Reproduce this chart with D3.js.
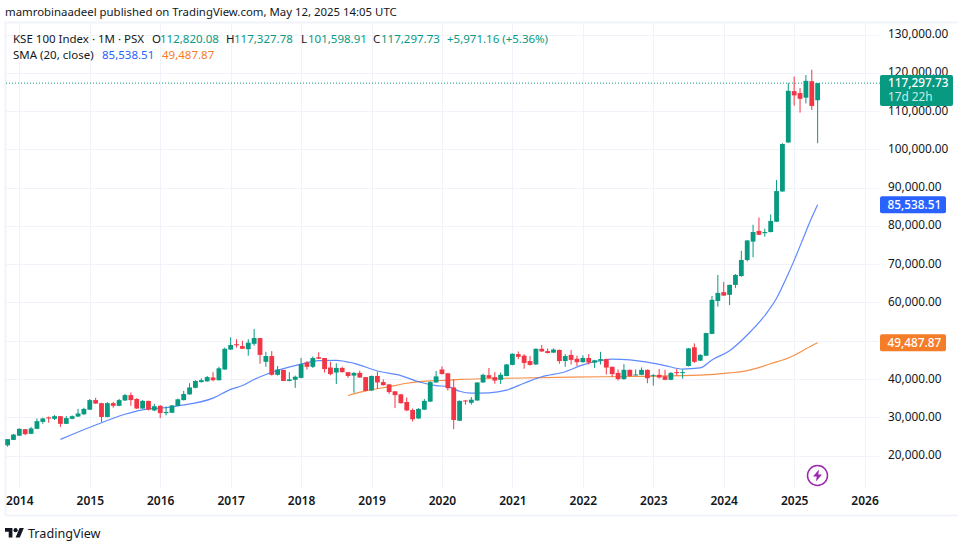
<!DOCTYPE html>
<html>
<head>
<meta charset="utf-8">
<script src="https://cdn.jsdelivr.net/npm/d3@7"></script>
<style>
  html, body { margin: 0; padding: 0; background: #fff; }
  text { font-family: "Noto Sans", sans-serif; fill: #131722; }
</style>
</head>
<body>
<svg id="chart" width="958" height="547"></svg>
<script>
// monthly candles, first one is Nov 2013, last one May 2025
const opens = [
  22700,24100,25200,26900,25700,27000,28800,30000,29600,30300,
  28300,29600,30200,30800,32000,34500,33700,30100,33700,33000,
  34400,35800,34800,32300,34300,31800,33000,31100,31200,33000,
  34500,36000,37700,39200,39400,40400,39700,42500,47700,49100,
  48600,47800,49200,50700,44500,46000,41100,42400,39500,39800,
  40300,44300,43200,45700,45500,43000,41700,42900,41800,40900,
  41600,40500,37000,40800,39200,38600,36800,36000,34000,31900,
  29700,32000,34100,39100,42500,41500,37800,29100,34400,33800,
  34400,39100,41000,40500,39800,40800,43700,46500,46100,44700,
  43800,47900,47300,46900,47600,44700,46300,45300,44400,45500,
  44300,44800,45200,43200,41600,40000,42400,41000,41100,42400,
  40900,41100,40700,39800,41800,41700,43400,48300,44800,46100,
  51800,60400,62700,62000,64600,66900,71100,75900,78700,78100,
  78400,81100,89000,101800,115200,114700,113500,117800,112820.08
];
const highs = [
  24300,25600,27100,26900,27500,29700,29900,30200,30600,30300,
  30300,30500,32200,32500,34800,35100,33800,34000,34000,34800,
  36100,36500,35000,34500,34300,33500,33200,32800,33200,34900,
  36900,38900,39700,40200,40800,41800,43200,48200,50900,50400,
  50000,50400,53100,50700,47100,47300,43400,42400,41800,40900,
  45500,44700,45900,47000,45500,44500,44100,43200,41800,41800,
  42200,40500,40900,41900,39900,38700,36800,36100,35200,32300,
  32400,34800,39400,42100,43300,41600,39900,34400,34500,35300,
  39200,41400,42900,41800,41700,43900,46700,47200,46500,46000,
  48000,48900,48000,48000,47700,46500,47600,46100,46200,46500,
  45000,47100,45300,43200,42500,43900,42500,42500,43000,42500,
  41300,42600,42400,41800,42600,42500,48100,49300,46500,52100,
  61700,67200,65400,64700,67400,73500,76300,80300,82200,79300,
  83000,92000,101600,117300,119000,116000,119400,120800,117327.78
];
const lows = [
  22300,24100,25100,25400,25600,26900,28300,28600,29300,27500,
  28300,29500,30100,30600,31900,33500,28800,30000,32500,32900,
  34300,33000,32200,32200,31800,31600,29800,30500,31100,32900,
  34400,35900,37600,39100,39300,39400,39600,42400,47600,48200,
  47900,46100,48700,44000,43200,40900,40900,39500,39400,37700,
  40200,42500,42900,45200,41700,41000,38700,41700,40300,36400,
  40300,36800,36900,37400,38300,36100,32400,33600,31600,28900,
  29600,31900,34000,39000,41200,37000,26900,29000,33300,33300,
  34300,39000,40100,38800,38700,40700,43600,45200,42700,43500,
  43700,47100,46700,46800,44000,43200,43800,43400,44300,43800,
  42900,43800,41200,40600,39600,39800,40600,40900,41000,38900,
  38300,40100,39700,39700,40900,40100,43300,44200,44700,46000,
  51700,58900,61700,59300,63800,66700,70700,71800,77600,77200,
  78300,81000,88900,101700,111400,109600,112000,110300,101598.91
];
const closes = [
  24300,25500,27000,25600,27100,29000,29700,29700,30300,28300,
  29800,30300,31000,32200,34500,33600,30100,33700,33000,34500,
  35800,34500,32300,34300,32000,32900,31100,31400,33100,34700,
  36100,37800,39500,39700,40500,39700,42800,47900,48900,48800,
  47900,49500,50700,46300,46000,41100,42500,39500,39900,40600,
  43900,43200,45500,45300,42600,41300,42900,41800,40800,41600,
  40400,36900,40800,39100,38400,36600,35800,33700,31800,29500,
  32200,34300,39200,40700,41300,37600,29300,34300,34200,34600,
  39100,41100,40300,39600,41100,43800,46600,45800,44200,43700,
  47900,47200,46800,47700,44700,46000,45000,44400,45500,44300,
  44900,45200,43000,41300,40000,42400,40800,41200,42400,40200,
  41000,40400,39800,41600,41600,41800,48000,44500,46300,52000,
  60700,62500,61800,64600,67200,71100,76200,78400,77700,78400,
  81300,89100,101400,115300,114100,113200,117900,111326.57,117297.73
];

// moving averages, month index = position in the candle arrays
const smaBlueMonths = [9,15,20,24,26,29,35,38,40,42,44,50,53,56,59,63,67,70,73,75,77,79,82,85,88,91,95,98,101,103,106,109,112,115,118,120,123,126,129,131,133,134,136,137,138];
const smaBlueValues = [24250,28000,30800,32200,32400,33000,35000,37300,38300,39900,41200,43900,44800,44900,44100,42100,40900,39300,38300,38000,36800,36300,36400,37100,38900,40600,41900,43700,44800,45200,45000,44400,43500,42600,42900,45000,47400,51500,56600,61100,67500,71000,78500,82200,85538.51];
const smaOrangeMonths = [58,61,65,68,72,75,77,85,96,108,118,123,126,128,130,133,135,136,138];
const smaOrangeValues = [35700,36900,38000,38900,39500,39700,39900,40200,40500,40700,41000,41600,42200,43000,44000,45500,47000,47900,49487.87];

const yearLabels = [2014,2015,2016,2017,2018,2019,2020,2021,2022,2023,2024,2025,2026];
const yearMonths = [2,14,26,38,50,62,74,86,98,110,122,134,146];
const priceTicks = [20000,30000,40000,50000,60000,70000,80000,90000,100000,110000,120000,130000];

const UP = "#089981", DOWN = "#F23645", BLUE = "#2962FF", ORANGE = "#F57C29", GRID = "#F0F3FA";
const fmt = d3.format(",.2f");

const svg = d3.select("#chart");
const x = d3.scaleLinear().domain([0, 146]).range([7.6, 864.6]);
const y = d3.scaleLinear().domain([20000, 130000]).range([455.6, 34.5]);

// frame of the chart
svg.append("path").attr("d", "M958,22.5H5.5V515.5H958").attr("fill", "none").attr("stroke", GRID).attr("stroke-width", 2);

// grid
svg.append("g").selectAll("line").data(yearMonths).join("line")
  .attr("x1", d => Math.round(x(d)) + 0.5).attr("x2", d => Math.round(x(d)) + 0.5)
  .attr("y1", 23).attr("y2", 488).attr("stroke", GRID);
svg.append("g").selectAll("line").data(priceTicks).join("line")
  .attr("x1", 6).attr("x2", 879)
  .attr("y1", d => Math.round(y(d)) + 0.5).attr("y2", d => Math.round(y(d)) + 0.5).attr("stroke", GRID);

// axes
const yAxis = svg.append("g").attr("transform", "translate(880,-0.5)")
  .call(d3.axisRight(y).tickValues(priceTicks).tickFormat(fmt).tickSize(0).tickPadding(8));
yAxis.select(".domain").remove();
yAxis.selectAll("text").attr("dy", "0.3em").style("font-size", "11.8px").style("font-family", "Noto Sans");

const xAxis = svg.append("g").attr("transform", "translate(0,494)")
  .call(d3.axisBottom(x).tickValues(yearMonths).tickFormat((d, i) => yearLabels[i]).tickSize(0).tickPadding(2));
xAxis.select(".domain").remove();
xAxis.selectAll("text").style("font-size", "12px").style("font-weight", 600).style("font-family", "Noto Sans");

// last price line
svg.append("line").attr("x1", 6).attr("x2", 880)
  .attr("y1", y(117297.73)).attr("y2", y(117297.73))
  .attr("stroke", UP).attr("stroke-dasharray", "1 2");

// moving averages
const line = d3.line().x(d => x(d[0])).y(d => y(d[1])).curve(d3.curveMonotoneX);
svg.append("path").attr("d", line(d3.zip(smaOrangeMonths, smaOrangeValues)))
  .attr("fill", "none").attr("stroke", ORANGE).attr("stroke-width", 1.2).attr("stroke-opacity", 0.85);
svg.append("path").attr("d", line(d3.zip(smaBlueMonths, smaBlueValues)))
  .attr("fill", "none").attr("stroke", BLUE).attr("stroke-width", 1.2).attr("stroke-opacity", 0.75);

// candles
const candles = svg.append("g").selectAll("g").data(d3.range(opens.length)).join("g")
  .attr("fill", i => closes[i] >= opens[i] ? UP : DOWN)
  .attr("stroke", i => closes[i] >= opens[i] ? UP : DOWN);
candles.append("line")
  .attr("x1", i => x(i)).attr("x2", i => x(i))
  .attr("y1", i => y(highs[i])).attr("y2", i => y(lows[i]));
candles.append("rect")
  .attr("stroke", "none")
  .attr("x", i => x(i) - 2.4).attr("width", 4.8)
  .attr("y", i => y(Math.max(opens[i], closes[i])))
  .attr("height", i => Math.max(1, Math.abs(y(opens[i]) - y(closes[i]))));

// price labels on the right
function priceLabel(value, color, width) {
  const g = svg.append("g");
  g.append("rect").attr("x", 880).attr("y", y(value) - 8.5).attr("width", width).attr("height", 17).attr("rx", 2).attr("fill", color);
  g.append("text").attr("x", 887.5).attr("y", y(value)).attr("dy", "0.34em")
    .style("font-size", "11.8px").style("fill", "#fff").style("font-weight", 500).text(fmt(value));
}
priceLabel(85538.51, BLUE, 66);
priceLabel(49487.87, ORANGE, 66);

const last = svg.append("g");
last.append("rect").attr("x", 880).attr("y", 75).attr("width", 73).attr("height", 31).attr("rx", 2).attr("fill", UP);
last.append("text").attr("x", 888).attr("y", 87).style("font-size", "11.8px").style("fill", "#fff").style("font-weight", 500).text(fmt(117297.73));
last.append("text").attr("x", 888).attr("y", 101).style("font-size", "11.8px").style("fill", "#c8ebe4").text("17d 22h");

// header and legend
svg.append("text").attr("x", 5).attr("y", 15.5).style("font-size", "11.4px").text("mamrobinaadeel published on TradingView.com, May 12, 2025 14:05 UTC");

function legend(xPos, yPos, str, color) {
  svg.append("text").attr("x", xPos).attr("y", yPos).style("font-size", "11.5px").style("fill", color).text(str);
}
legend(13, 42.5, "KSE 100 Index · 1M · PSX", "#131722");
legend(152, 42.5, "O", "#131722");
legend(160, 42.5, fmt(opens[opens.length - 1]), UP);
legend(226, 42.5, "H", "#131722");
legend(234, 42.5, fmt(highs[highs.length - 1]), UP);
legend(301, 42.5, "L", "#131722");
legend(308, 42.5, fmt(lows[lows.length - 1]), UP);
legend(373, 42.5, "C", "#131722");
legend(381, 42.5, fmt(closes[closes.length - 1]), UP);
legend(447, 42.5, "+5,971.16 (+5.36%)", UP);
legend(13, 59, "SMA (20, close)", "#131722");
legend(102, 59, fmt(85538.51), BLUE);
legend(162, 59, fmt(49487.87), ORANGE);

// lightning badge
const badge = svg.append("g").attr("transform", "translate(817.5,475.5)");
badge.append("circle").attr("r", 10).attr("fill", "#fff").attr("stroke", "#9C27B0").attr("stroke-width", 1.5);
badge.append("path").attr("d", "M1.5,-6L-4.5,1H-0.8L-1.5,6L4.5,-1H0.8Z").attr("fill", "#9C27B0");

// logo
const logo = svg.append("g").attr("transform", "translate(5,525.9) scale(0.53)");
logo.append("path").attr("d", "M14 22H7V11H0V4h14v18zM28 22h-8l7.5-18h8L28 22z").attr("fill", "#131722");
logo.append("circle").attr("cx", 20).attr("cy", 8).attr("r", 4).attr("fill", "#131722");
svg.append("text").attr("x", 28).attr("y", 538).style("font-size", "12.6px").text("TradingView");
</script>
</body>
</html>
